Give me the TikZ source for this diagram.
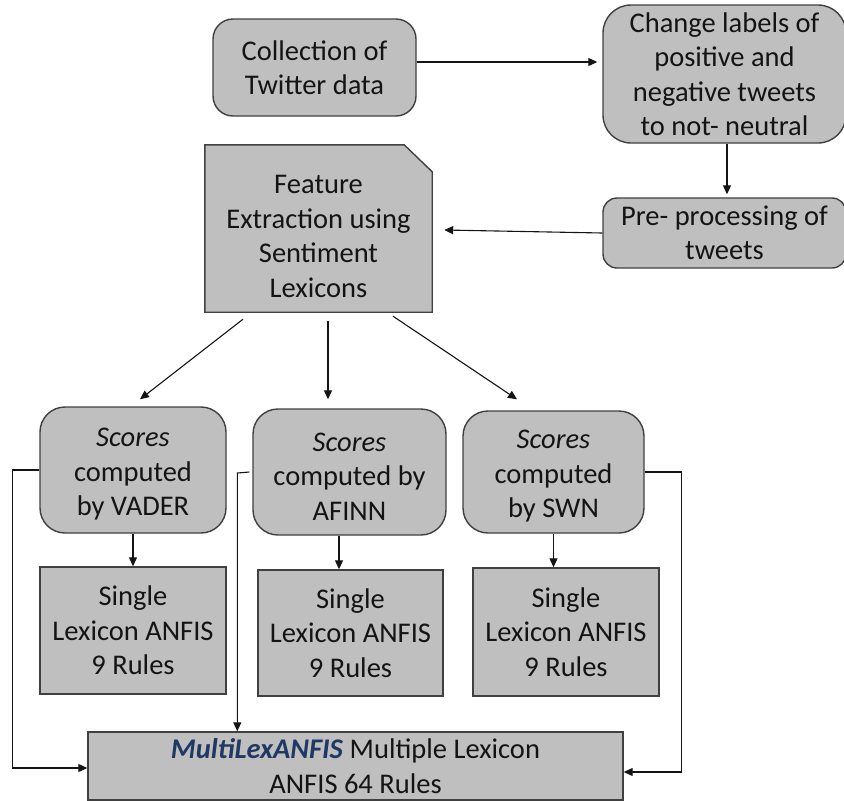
\documentclass[tikz,border=0pt]{standalone}
\usepackage{fontspec}
\setmainfont{Carlito}
\usetikzlibrary{arrows.meta,backgrounds}
\definecolor{boxfill}{HTML}{BFBFBF}
\definecolor{boxline}{HTML}{404040}
\definecolor{lexblue}{HTML}{1F3864}
\definecolor{inkcol}{HTML}{141414}

\begin{document}
\begin{tikzpicture}[x=1pt,y=-1pt,
  font=\fontsize{28.5}{34.5}\selectfont,
  base/.style={fill=boxfill,draw=boxline,line width=1.4pt,align=center,
               inner sep=0pt,text=inkcol},
  plainbox/.style={base,rounded corners=0pt},
  arr/.style={-{Triangle[length=9pt,width=8pt]},line width=1.1pt,draw=inkcol}]
\useasboundingbox (0,0) rectangle (844,801);

% --- upper pipeline ---
\node[base,rounded corners=20pt,minimum width=203pt,minimum height=97pt]
  (coll) at (314.5,67.5) {Collection of\\Twitter data};
\node[base,rounded corners=28pt,minimum width=243pt,minimum height=138pt]
  (chg) at (724.5,74) {Change labels of\\positive and\\negative tweets\\to not- neutral};
\node[base,rounded corners=14pt,minimum width=243pt,minimum height=70pt]
  (pre) at (724.5,233) {Pre- processing of\\tweets};
% document shape: the text sits a little below the middle
\node[align=center,inner sep=0pt,text=inkcol,minimum width=227pt,minimum height=167pt]
  (feat) at (318.5,228.5) {\rule{0pt}{34.4pt}Feature\\Extraction using\\Sentiment\\Lexicons};
\begin{scope}[on background layer]
  \filldraw[fill=boxfill,draw=boxline,line width=1.4pt,line join=miter]
    (feat.south west) -- (feat.north west) -- ([xshift=-28pt]feat.north east)
    -- ([yshift=-27pt]feat.north east) -- (feat.south east) -- cycle;
\end{scope}

% --- lexicon score boxes ---
\node[base,rounded corners=25pt,minimum width=186pt,minimum height=126pt]
  (vader) at (133,470) {\rule{0pt}{27pt}\textit{Scores}\\computed\\by VADER};
\node[base,rounded corners=25pt,minimum width=193pt,minimum height=126pt]
  (afinn) at (349.5,472) {\rule{0pt}{27pt}\textit{Scores}\\computed by\\AFINN};
\node[base,rounded corners=25pt,minimum width=181pt,minimum height=122pt]
  (swn) at (553.5,472) {\rule{0pt}{27pt}\textit{Scores}\\computed\\by SWN};

% --- single lexicon ANFIS boxes ---
\node[plainbox,minimum width=186pt,minimum height=127pt]
  (sv) at (133,630.5) {Single\\Lexicon ANFIS\\9 Rules};
\node[plainbox,minimum width=185pt,minimum height=126pt]
  (sa) at (350.5,633) {Single\\Lexicon ANFIS\\9 Rules};
\node[plainbox,minimum width=186pt,minimum height=128pt]
  (ss) at (566,632) {Single\\Lexicon ANFIS\\9 Rules};

% --- combined model ---
\node[plainbox,minimum width=535pt,minimum height=68pt]
  (multi) at (355.5,766)
  {\textcolor{lexblue}{\textbf{\textit{MultiLexANFIS}}} Multiple Lexicon\\ANFIS 64 Rules};

% --- connectors ---
\draw[arr] ([yshift=5.5pt]coll.east) -- ([yshift=5.5pt,xshift=-5pt]coll.east -| chg.west);
\draw[arr,shorten >=3pt] ([xshift=2.5pt]chg.south) -- ([xshift=2.5pt]pre.north);
\draw[arr] (pre.west) -- ([xshift=12pt,yshift=-1.5pt]feat.east);

\draw[arr] ([xshift=-75.5pt,yshift=-7pt]feat.south) -- ([xshift=7pt,yshift=7pt]vader.north);
\draw[arr] ([xshift=9.5pt,yshift=-9pt]feat.south) -- ([xshift=-21.5pt,yshift=9pt]afinn.north);
\draw[arr] ([xshift=74.5pt,yshift=-4pt]feat.south) -- ([xshift=-36.5pt,yshift=11pt]swn.north);

\draw[arr] (vader) -- (sv);
\draw[arr] ([xshift=-10.5pt]afinn.south) -- ([xshift=-10.5pt]afinn.south |- sa.north);
\draw[arr] (swn.south) -- (swn.south |- ss.north);

\draw[arr] (vader.west) -- ++(-27,0) |- ([yshift=-2pt]multi.west);
\draw[arr] ([xshift=-3pt]afinn.west) -- ++(-12,1) coordinate (afdrop) -- (afdrop |- multi.north);
\draw[arr] (swn.east) -- ++(37,0) |- ([yshift=-6pt]multi.east);
\end{tikzpicture}
\end{document}
